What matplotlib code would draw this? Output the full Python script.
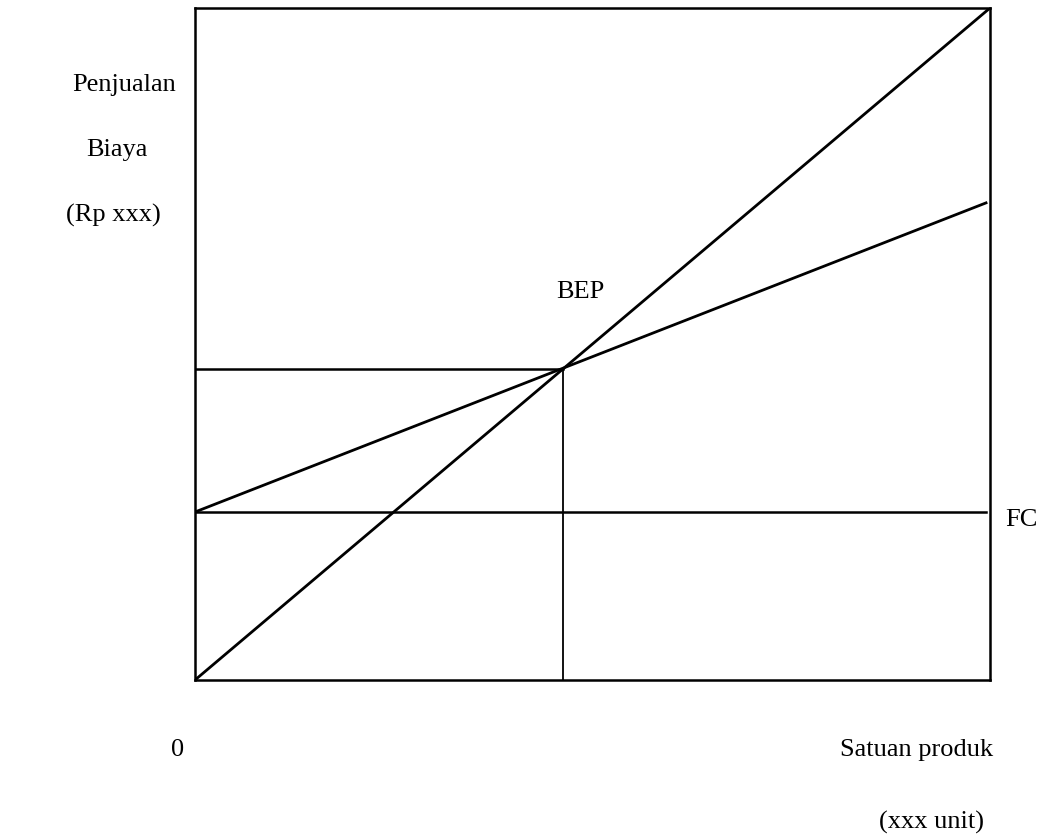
import matplotlib.pyplot as plt

# break-even chart data (units on x, rupiah on y)
units = [0, 10]
sales = [0, 10]
cost_units = [0, 9.95]
total_cost = [2.5, 7.1]
fixed_cost = 2.5
bep = 4.63

plt.rcParams['font.family'] = ['Liberation Serif', 'DejaVu Serif']

fig = plt.figure(figsize=(10.5, 8.37), dpi=100)
W, H = 1050, 837
ax = fig.add_axes([195 / W, 1 - 681 / H, 795 / W, 672 / H])
ax.set_xlim(0, 10)
ax.set_ylim(0, 10)
ax.set_xticks([])
ax.set_yticks([])
for s in ax.spines.values():
    s.set_linewidth(1.8)

ax.plot(units, sales, color='black', lw=2)
ax.plot(cost_units, total_cost, color='black', lw=2)
ax.plot([0, 9.95], [fixed_cost, fixed_cost], color='black', lw=1.8)
ax.plot([0, bep], [bep, bep], color='black', lw=1.8)
ax.plot([bep, bep], [0, bep], color='black', lw=1.3)


def label(txt, x, y, ha='left'):
    fig.text(x / W, 1 - y / H, txt, ha=ha, va='center', fontsize=19)


label('Penjualan', 72, 85)
label('Biaya', 86, 150)
label('(Rp xxx)', 66, 215)
label('BEP', 556, 292)
label('FC', 1005, 520)
label('0', 178, 750, ha='center')
label('Satuan produk', 993, 750, ha='right')
label('(xxx unit)', 984, 822, ha='right')

fig.savefig('out.png', dpi=100)
